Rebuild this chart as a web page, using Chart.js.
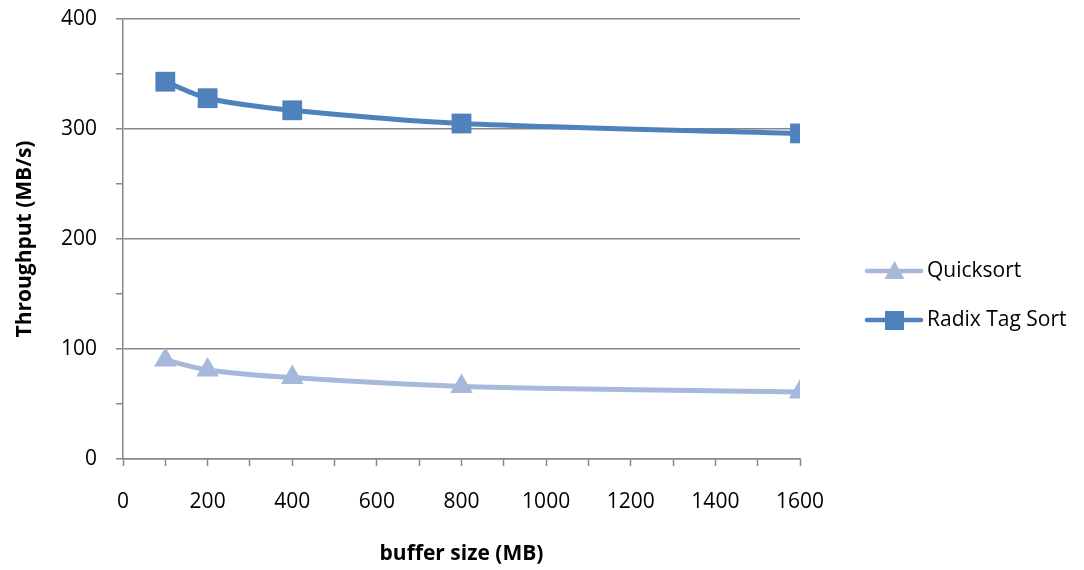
<!DOCTYPE html>
<html>
<head>
<meta charset="utf-8">
<script src="https://cdn.jsdelivr.net/npm/chart.js@4.4.1/dist/chart.umd.min.js"></script>
<style>
  html, body { margin: 0; padding: 0; background: #ffffff; }
  #wrap { position: relative; width: 1084px; height: 570px; }
</style>
</head>
<body>
<div id="wrap"><canvas id="c" width="1084" height="570"></canvas></div>
<script>
// ---- data ----
const bufferSizes = [100, 200, 400, 800, 1600];
const quicksort = [90, 81, 74, 66, 61];
const radixTagSort = [343, 328, 317, 305, 296];
const seriesNames = ['Quicksort', 'Radix Tag Sort'];
const xTitle = 'buffer size (MB)';
const yTitle = 'Throughput (MB/s)';

const FONT = '"Open Sans", Lato, "DejaVu Sans", sans-serif';
const AXIS = '#878787';
const C_Q = '#A7B9DA';
const C_R = '#4F81BD';

const legendPlugin = {
  id: 'sideLegend',
  afterDraw(chart) {
    const ctx = chart.ctx;
    const items = [
      { name: seriesNames[0], color: C_Q, style: 'triangle', y: 271 },
      { name: seriesNames[1], color: C_R, style: 'rect', y: 320 }
    ];
    ctx.save();
    items.forEach(it => {
      ctx.strokeStyle = it.color;
      ctx.lineWidth = 4.5;
      ctx.lineCap = 'round';
      ctx.beginPath();
      ctx.moveTo(867, it.y);
      ctx.lineTo(921, it.y);
      ctx.stroke();
      ctx.fillStyle = it.color;
      ctx.beginPath();
      if (it.style === 'rect') {
        ctx.rect(885, it.y - 9, 19, 19);
      } else {
        ctx.moveTo(894.5, it.y - 10);
        ctx.lineTo(904.5, it.y + 8);
        ctx.lineTo(884.5, it.y + 8);
        ctx.closePath();
      }
      ctx.fill();
      ctx.fillStyle = '#000000';
      ctx.font = '21px ' + FONT;
      ctx.textBaseline = 'middle';
      ctx.textAlign = 'left';
      ctx.fillText(it.name, 927, it.y);
    });
    ctx.restore();
  }
};

new Chart(document.getElementById('c'), {
  type: 'line',
  data: {
    datasets: [
      {
        label: seriesNames[0],
        data: bufferSizes.map((x, i) => ({ x, y: quicksort[i] })),
        borderColor: C_Q,
        backgroundColor: C_Q,
        borderWidth: 5,
        pointStyle: 'triangle',
        pointRadius: 13,
        pointHoverRadius: 13,
        pointBorderWidth: 0,
        tension: 0.3
      },
      {
        label: seriesNames[1],
        data: bufferSizes.map((x, i) => ({ x, y: radixTagSort[i] })),
        borderColor: C_R,
        backgroundColor: C_R,
        borderWidth: 5,
        pointStyle: 'rect',
        pointRadius: 14,
        pointHoverRadius: 14,
        pointBorderWidth: 0,
        tension: 0.3
      }
    ]
  },
  options: {
    responsive: false,
    animation: false,
    events: [],
    layout: { padding: { left: 0, top: 19, right: 284, bottom: 0 } },
    plugins: {
      legend: { display: false },
      tooltip: { enabled: false }
    },
    scales: {
      x: {
        type: 'linear',
        min: 0,
        max: 1600,
        afterFit: s => { s.height = 111; s.paddingLeft = 0; s.paddingRight = 0; },
        ticks: {
          stepSize: 100,
          autoSkip: false,
          maxRotation: 0,
          padding: 23,
          color: '#000000',
          font: { family: FONT, size: 21 },
          callback: v => (v % 200 === 0 ? String(v) : '')
        },
        grid: {
          drawOnChartArea: false,
          drawTicks: true,
          tickLength: 7,
          tickColor: AXIS,
          tickWidth: 1.5
        },
        border: { color: AXIS, width: 1.5 },
        title: {
          display: true,
          text: xTitle,
          color: '#000000',
          font: { family: FONT, size: 21, weight: 'bold' },
          padding: { top: 0, bottom: 3 }
        }
      },
      y: {
        min: 0,
        max: 400,
        afterFit: s => { s.width = 123; s.paddingTop = 0; s.paddingBottom = 0; },
        ticks: {
          stepSize: 50,
          autoSkip: false,
          padding: 19,
          color: '#000000',
          font: { family: FONT, size: 21 },
          callback: v => (v % 100 === 0 ? String(v) : '')
        },
        grid: {
          color: c => (c.tick && c.tick.value % 100 === 0 ? AXIS : 'rgba(0,0,0,0)'),
          lineWidth: 1.5,
          tickColor: AXIS,
          tickLength: 7,
          tickWidth: 1.5
        },
        border: { color: AXIS, width: 1.5 },
        title: {
          display: true,
          text: yTitle,
          color: '#000000',
          font: { family: FONT, size: 21, weight: 'bold' },
          padding: { top: 12, bottom: 0 }
        }
      }
    }
  },
  plugins: [legendPlugin]
});
</script>
</body>
</html>
